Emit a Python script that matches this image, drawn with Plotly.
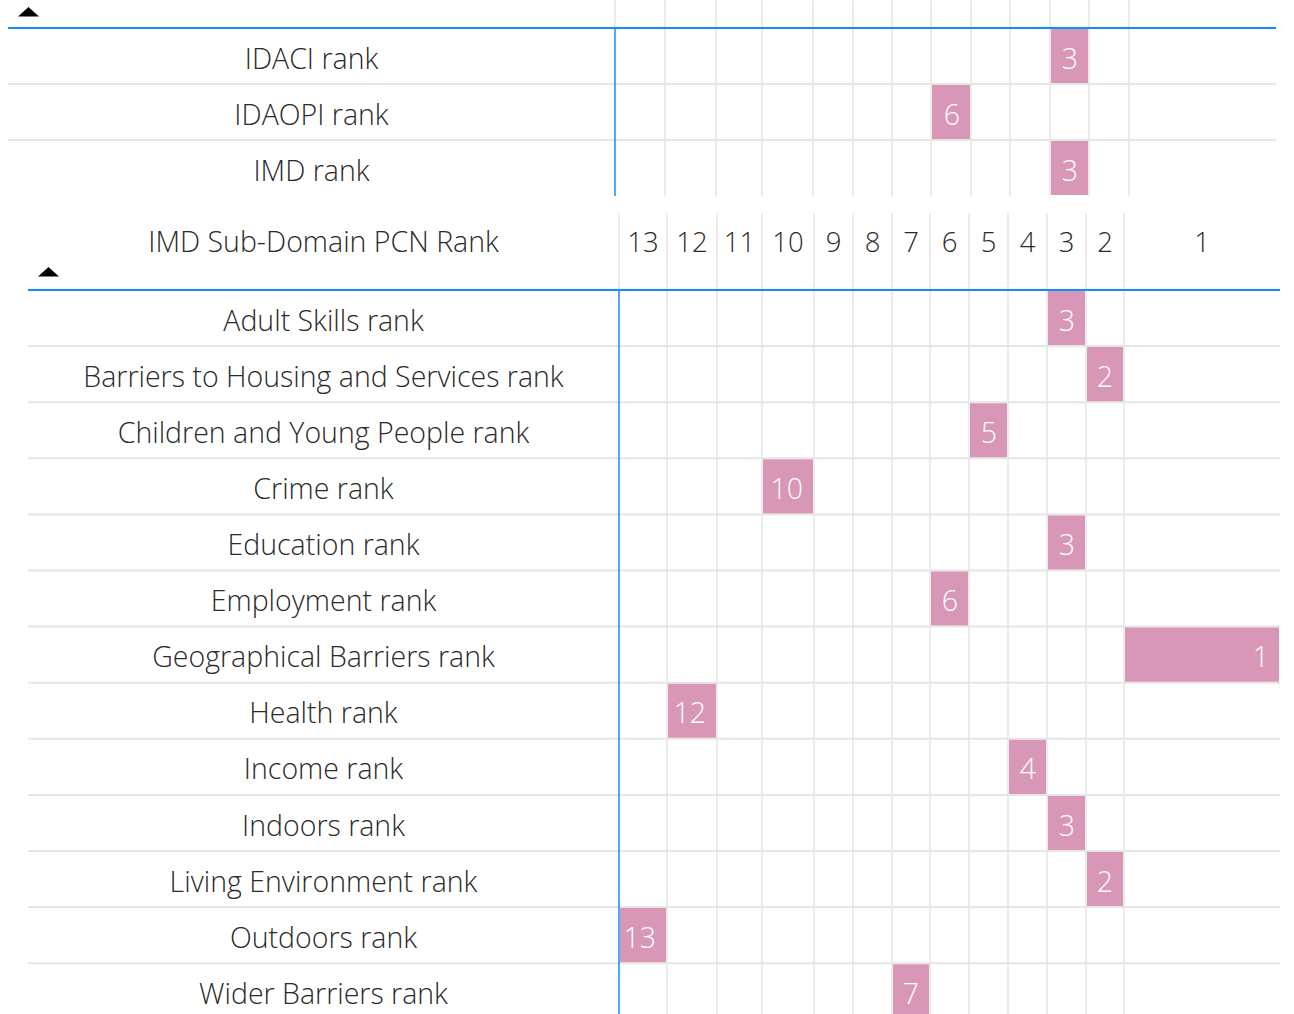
import plotly.graph_objects as go

# ---------------- data ----------------
rank_columns = [13, 12, 11, 10, 9, 8, 7, 6, 5, 4, 3, 2, 1]

top_rows = ["IDACI rank", "IDAOPI rank", "IMD rank"]
top_values = [3, 6, 3]

sub_title = "IMD Sub-Domain PCN Rank"
sub_rows = [
    "Adult Skills rank",
    "Barriers to Housing and Services rank",
    "Children and Young People rank",
    "Crime rank",
    "Education rank",
    "Employment rank",
    "Geographical Barriers rank",
    "Health rank",
    "Income rank",
    "Indoors rank",
    "Living Environment rank",
    "Outdoors rank",
    "Wider Barriers rank",
]
sub_values = [3, 2, 5, 10, 3, 6, 1, 12, 4, 3, 2, 13, 7]

# ---------------- geometry / style ----------------
W, H = 1294, 1014
PINK = "#D897B6"
BLUE = "#118DFF"
GRID = "#E6E6E6"
TXT = "#2B2A29"
FONT = "Segoe UI Light, Open Sans, Noto Sans, sans-serif"
FS = 28.5
TXT_DY = 5.5   # text sits a little below row centre

top_edges = [615, 665, 716, 762, 813, 853, 892, 931, 971, 1010, 1050, 1089, 1129, 1276]
top_left = 8
top_header_y = 28
top_row_h = 56
top_grid_top = 0

bot_edges = [619, 667, 717, 762, 814, 853, 892, 930, 969, 1008, 1047, 1086, 1124, 1280]
bot_left = 28
bot_header_top = 213
bot_header_y = 290
bot_row_h = 56.1

fig = go.Figure()
shapes = []


def hline(x0, x1, y, color, w):
    shapes.append(dict(type="line", xref="x", yref="y", x0=x0, x1=x1, y0=y, y1=y,
                       line=dict(color=color, width=w), layer="below"))


def vline(x, y0, y1, color, w):
    shapes.append(dict(type="line", xref="x", yref="y", x0=x, x1=x, y0=y0, y1=y1,
                       line=dict(color=color, width=w), layer="below"))


def table(rows, values, edges, left, header_y, row_h, grid_top):
    n = len(rows)
    bottom = min(header_y + row_h * n, H + 10)
    for e in edges[1:-1]:
        vline(e, grid_top, bottom, GRID, 1.5)
    vline(edges[0], grid_top, header_y, GRID, 1.5)
    for i in range(1, n):
        hline(left, edges[-1], header_y + row_h * i, GRID, 2)
    hline(left, edges[-1], header_y, BLUE, 2)
    vline(edges[0], header_y, bottom, BLUE, 1.5)

    centers = [header_y + row_h * (i + 0.5) for i in range(n)]
    cols = [rank_columns.index(v) for v in values]
    lefts = [edges[c] + 1 for c in cols]
    rights = [edges[c + 1] - 1 for c in cols]
    fig.add_trace(go.Bar(
        orientation="h", y=centers, base=lefts,
        x=[r - l for l, r in zip(lefts, rights)],
        width=row_h - 2, marker=dict(color=PINK, line=dict(width=0)),
        hoverinfo="skip",
    ))
    fig.add_trace(go.Scatter(
        x=[r - 10 for r in rights], y=[c + TXT_DY for c in centers], mode="text",
        text=[str(v) for v in values], textposition="middle left",
        textfont=dict(family=FONT, size=FS, color="white", weight=300),
        hoverinfo="skip",
    ))
    fig.add_trace(go.Scatter(
        x=[(left + edges[0]) / 2] * n, y=[c + TXT_DY for c in centers],
        mode="text", text=rows, textposition="middle center",
        textfont=dict(family=FONT, size=FS, color=TXT, weight=300),
        hoverinfo="skip",
    ))
    return centers


table(top_rows, top_values, top_edges, top_left, top_header_y, top_row_h, top_grid_top)
table(sub_rows, sub_values, bot_edges, bot_left, bot_header_y, bot_row_h, bot_header_top)

# header of sub-domain table
hdr_y = 245
fig.add_trace(go.Scatter(
    x=[(bot_edges[i] + bot_edges[i + 1]) / 2 for i in range(len(rank_columns))],
    y=[hdr_y] * len(rank_columns), mode="text",
    text=[str(c) for c in rank_columns], textposition="middle center",
    textfont=dict(family=FONT, size=FS - 1, color=TXT, weight=300), hoverinfo="skip",
))
fig.add_trace(go.Scatter(
    x=[(bot_left + bot_edges[0]) / 2], y=[hdr_y], mode="text", text=[sub_title],
    textposition="middle center",
    textfont=dict(family=FONT, size=FS, color=TXT, weight=300), hoverinfo="skip",
))

# sort triangles
for cx, cy in [(28.5, 12), (48.5, 272)]:
    shapes.append(dict(type="path", xref="x", yref="y",
                       path=f"M {cx-10.5} {cy+4.5} L {cx+10.5} {cy+4.5} L {cx} {cy-5} Z",
                       fillcolor="black", line=dict(width=0)))

fig.update_layout(
    width=W, height=H, margin=dict(l=0, r=0, t=0, b=0),
    paper_bgcolor="white", plot_bgcolor="white", showlegend=False,
    xaxis=dict(range=[0, W], visible=False, fixedrange=True),
    yaxis=dict(range=[H, 0], visible=False, fixedrange=True),
    shapes=shapes, barmode="overlay",
)

fig.write_html("out.html", config={"displayModeBar": False},
               post_script="document.body.style.margin='0';document.body.style.overflow='hidden';")
